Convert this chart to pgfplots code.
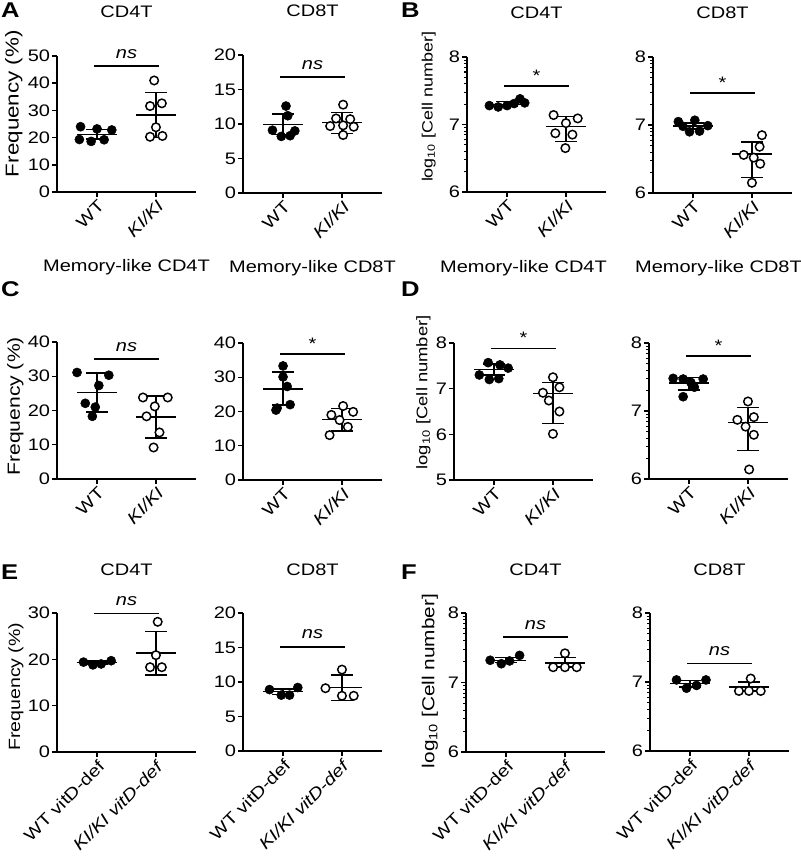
\documentclass[border=0pt]{standalone}
\usepackage{fontspec}
\setmainfont{Liberation Sans}[FakeStretch=1.2]
\usepackage{pgfplots}
\pgfplotsset{compat=1.18}

\pgfplotsset{
  panel/.style={
    scale only axis, width=104.25pt, height=102pt,
    xmin=-0.68, xmax=1.68,
    axis lines=left, axis line style={-, line width=1.2pt, black},
    tick align=outside, major tick length=3.5pt, minor tick length=2pt,
    tick style={line width=1.1pt, black},
    minor tick style={line width=0.8pt, black},
    xtick={0,1},
    tick label style={font=\fontsize{12.5}{12.5}\selectfont},
    /pgf/number format/assume math mode=true,
    yticklabel style={inner sep=1.5pt},
    xticklabel style={rotate=45, anchor=north east, inner sep=1pt},
    title style={at={(0.5,1)}, anchor=base, yshift=22.5pt, font=\fontsize{12.5}{12.5}\selectfont},
    clip=false,
    anchor=south west,
  },
  logminor/.style={minor ytick={6.301,6.477,6.602,6.699,6.778,6.845,6.903,6.954,7.301,7.477,7.602,7.699,7.778,7.845,7.903,7.954}},
  wt/.style={only marks, mark=*, mark size=3.4pt, mark options={draw=black, fill=black}},
  ki/.style={only marks, mark=*, mark size=3.2pt, mark options={draw=black, fill=white, line width=1.1pt}},
  sd/.style={black, line width=1.1pt, mark=none},
  sigl/.style={black, line width=1.3pt, mark=none},
  ylab/.style n args={4}{ylabel={#1}, ylabel style={at={(axis description cs:#2,#3)}, anchor=center, font=\fontsize{#4}{#4}\selectfont}},
}

\newcommand\msdL[3]{%
  \addplot[sd] coordinates {(-0.34,#1) (0.34,#1)};
  \addplot[sd] coordinates {(0,#2) (0,#3)};
  \addplot[sd] coordinates {(-0.18,#2) (0.18,#2)};
  \addplot[sd] coordinates {(-0.18,#3) (0.18,#3)};}
\newcommand\msdR[3]{%
  \addplot[sd] coordinates {(0.66,#1) (1.34,#1)};
  \addplot[sd] coordinates {(1,#2) (1,#3)};
  \addplot[sd] coordinates {(0.82,#2) (1.18,#2)};
  \addplot[sd] coordinates {(0.82,#3) (1.18,#3)};}
\newcommand\sig[3]{%
  \addplot[sigl] coordinates {(-0.05,#1) (1.05,#1)};
  \node[anchor=base, inner sep=0pt, yshift=#3, font=\fontsize{12.5}{12.5}\selectfont] at (axis cs:0.5,#1) {#2};}

\newcommand\flab{Frequency (\%)}
\newcommand\llab{log\textsubscript{10} [Cell number]}

\begin{document}
\begin{tikzpicture}
\path[use as bounding box] (0,0) rectangle (600pt,642.75pt);

\node[font=\bfseries\fontsize{16}{16}\selectfont, inner sep=0pt, anchor=west] at (0.6pt,635.25pt) {A};
\node[font=\bfseries\fontsize{16}{16}\selectfont, inner sep=0pt, anchor=west] at (300.6pt,635.25pt) {B};
\node[font=\bfseries\fontsize{16}{16}\selectfont, inner sep=0pt, anchor=west] at (0.6pt,426pt) {C};
\node[font=\bfseries\fontsize{16}{16}\selectfont, inner sep=0pt, anchor=west] at (300.6pt,426pt) {D};
\node[font=\bfseries\fontsize{16}{16}\selectfont, inner sep=0pt, anchor=west] at (0.6pt,213.75pt) {E};
\node[font=\bfseries\fontsize{16}{16}\selectfont, inner sep=0pt, anchor=west] at (300.6pt,213.75pt) {F};

% ---------- A1
\begin{axis}[panel, at={(42.75pt,498.75pt)}, title={CD4T},
  ymin=0, ymax=50, ytick={0,10,...,50}, xticklabels={WT,\textit{KI/KI}},
  ylab={\flab}{-0.31}{0.65}{14}]
\addplot[wt] coordinates {(-0.28,24.0) (0.0,23.2) (0.25,22.8) (-0.3,19.3) (-0.1,18.6) (0.12,19.2)};
\addplot[ki] coordinates {(0.97,41.0) (0.9,31.6) (1.1,32.6) (1.0,23.8) (0.9,20.3) (1.11,20.6)};
\msdL{21.2}{19.4}{23.0}
\msdR{28.3}{20.1}{36.6}
\sig{46.3}{\textit{ns}}{6pt}
\end{axis}

% ---------- A2
\begin{axis}[panel, at={(182.25pt,498pt)}, height=103.5pt, title={CD8T},
  ymin=0, ymax=20, ytick={0,5,...,20}, xticklabels={WT,\textit{KI/KI}}]
\addplot[wt] coordinates {(0.05,12.6) (0.08,11.2) (-0.18,9.1) (0.2,9.0) (-0.03,8.2) (0.12,8.3)};
\addplot[ki] coordinates {(1.02,12.8) (0.9,10.8) (1.14,10.7) (0.8,9.7) (1.02,9.8) (1.2,9.6) (1.02,8.4)};
\msdL{9.95}{8.45}{11.45}
\msdR{10.25}{8.65}{11.7}
\sig{16.8}{\textit{ns}}{6pt}
\end{axis}

% ---------- B1
\begin{axis}[panel, at={(350.25pt,498.75pt)}, height=101.25pt, title={CD4T},
  ymin=6, ymax=8, ytick={6,7,8}, logminor, xticklabels={WT,\textit{KI/KI}},
  ylab={\llab}{-0.275}{0.63}{11.2}]
\addplot[wt] coordinates {(-0.3,7.28) (-0.15,7.26) (0.0,7.28) (0.12,7.31) (0.22,7.38) (0.3,7.32)};
\addplot[ki] coordinates {(0.79,7.14) (1.2,7.09) (1.0,7.02) (0.82,6.87) (1.11,6.85) (0.99,6.65)};
\msdL{7.30}{7.27}{7.34}
\msdR{6.97}{6.75}{7.12}
\sig{7.57}{*}{3.5pt}
\end{axis}

% ---------- B2
\begin{axis}[panel, at={(489.75pt,498pt)}, title={CD8T},
  ymin=6, ymax=8, ytick={6,7,8}, logminor, xticklabels={WT,\textit{KI/KI}}]
\addplot[wt] coordinates {(-0.25,7.05) (0.03,7.07) (0.25,6.99) (-0.17,6.98) (-0.06,6.90) (0.11,6.91)};
\addplot[ki] coordinates {(1.17,6.85) (1.13,6.68) (0.86,6.56) (1.03,6.52) (1.14,6.43) (1.0,6.15)};
\msdL{6.985}{6.94}{7.03}
\msdR{6.57}{6.23}{6.75}
\sig{7.47}{*}{3.5pt}
\end{axis}

% ---------- C1
\begin{axis}[panel, at={(42.75pt,283.5pt)}, height=102.75pt, title={Memory-like CD4T},
  title style={yshift=24pt},
  ymin=0, ymax=40, ytick={0,10,...,40}, xticklabels={WT,\textit{KI/KI}},
  ylab={\flab}{-0.30}{0.53}{13.2}]
\addplot[wt] coordinates {(-0.34,31.1) (0.2,30.3) (0.03,27.3) (-0.2,22.1) (-0.03,21.0) (-0.08,18.3)};
\addplot[ki] coordinates {(0.78,23.8) (1.2,23.8) (0.98,21.2) (0.84,18.3) (1.06,13.6) (0.96,9.2)};
\msdL{25.3}{19.5}{31.0}
\msdR{18.1}{12.0}{24.2}
\sig{35.0}{\textit{ns}}{6pt}
\end{axis}

% ---------- C2
\begin{axis}[panel, at={(182.25pt,282.75pt)}, height=102.75pt, title={Memory-like CD8T},
  title style={yshift=24pt},
  ymin=0, ymax=40, ytick={0,10,...,40}, xticklabels={WT,\textit{KI/KI}}]
\addplot[wt] coordinates {(0.0,33.3) (0.0,30.1) (0.07,27.3) (0.12,22.0) (-0.1,21.0) (-0.12,20.4)};
\addplot[ki] coordinates {(1.02,21.6) (0.82,19.0) (1.19,19.9) (0.96,17.5) (1.1,15.5) (0.79,13.1)};
\msdL{26.6}{21.9}{31.5}
\msdR{17.6}{14.3}{20.8}
\sig{36.8}{*}{3.5pt}
\end{axis}

% ---------- D1
\begin{axis}[panel, at={(340.5pt,282.75pt)}, height=102.75pt, title={Memory-like CD4T},
  title style={yshift=24pt},
  ymin=5, ymax=8, ytick={5,6,7,8}, xticklabels={WT,\textit{KI/KI}},
  ylab={\llab}{-0.22}{0.64}{11.5}]
\addplot[wt] coordinates {(-0.25,7.30) (-0.1,7.57) (0.1,7.52) (0.24,7.45) (-0.08,7.20) (0.08,7.22)};
\addplot[ki] coordinates {(1.0,7.25) (1.11,7.03) (0.83,6.91) (0.93,6.74) (1.11,6.50) (1.0,6.01)};
\msdL{7.42}{7.30}{7.54}
\msdR{6.89}{6.24}{7.14}
\sig{7.88}{*}{3.5pt}
\end{axis}

% ---------- D2
\begin{axis}[panel, at={(486.75pt,283.5pt)}, title={Memory-like CD8T},
  title style={yshift=24pt},
  ymin=6, ymax=8, ytick={6,7,8}, logminor, xticklabels={WT,\textit{KI/KI}}]
\addplot[wt] coordinates {(-0.27,7.48) (-0.1,7.47) (0.24,7.47) (0.03,7.42) (0.09,7.35) (-0.1,7.21)};
\addplot[ki] coordinates {(1.0,7.14) (0.82,6.87) (1.1,6.91) (0.96,6.77) (1.1,6.65) (1.02,6.14)};
\msdL{7.41}{7.31}{7.49}
\msdR{6.83}{6.42}{7.05}
\sig{7.81}{*}{3.5pt}
\end{axis}

% ---------- E1
\begin{axis}[panel, at={(42.75pt,78.75pt)}, height=104.25pt, title={CD4T},
  ymin=0, ymax=30, ytick={0,10,...,30}, xticklabels={WT vitD-def,\textit{KI/KI vitD-def}},
  ylab={\flab}{-0.295}{0.47}{12.2}]
\addplot[wt] coordinates {(-0.23,19.4) (-0.07,18.8) (0.07,19.0) (0.24,19.7)};
\addplot[ki] coordinates {(1.03,28.1) (1.0,20.9) (0.9,18.3) (1.1,18.3)};
\msdL{19.3}{19.0}{19.6}
\msdR{21.4}{16.6}{26.0}
\sig{29.9}{\textit{ns}}{6pt}
\end{axis}

% ---------- E2
\begin{axis}[panel, at={(182.25pt,79.5pt)}, height=103.5pt, title={CD8T},
  ymin=0, ymax=20, ytick={0,5,...,20}, xticklabels={WT vitD-def,\textit{KI/KI vitD-def}}]
\addplot[wt] coordinates {(-0.23,8.9) (-0.03,8.1) (0.11,8.1) (0.25,9.2)};
\addplot[ki] coordinates {(1.0,11.8) (0.72,9.1) (1.0,8.0) (1.2,8.0)};
\msdL{8.6}{8.2}{9.0}
\msdR{9.2}{7.3}{11.0}
\sig{15.1}{\textit{ns}}{6pt}
\end{axis}

% ---------- F1
\begin{axis}[panel, at={(349.5pt,78.75pt)}, height=104.25pt, title={CD4T},
  ymin=6, ymax=8, ytick={6,7,8}, logminor, xticklabels={WT vitD-def,\textit{KI/KI vitD-def}},
  ylab={\llab}{-0.26}{0.51}{13}]
\addplot[wt] coordinates {(-0.27,7.32) (-0.08,7.27) (0.06,7.31) (0.23,7.39)};
\addplot[ki] coordinates {(1.0,7.42) (0.8,7.22) (1.0,7.22) (1.2,7.22)};
\msdL{7.32}{7.29}{7.36}
\msdR{7.28}{7.22}{7.36}
\sig{7.65}{\textit{ns}}{6pt}
\end{axis}

% ---------- F2
\begin{axis}[panel, at={(487.5pt,79.5pt)}, height=103.5pt, title={CD8T},
  ymin=6, ymax=8, ytick={6,7,8}, logminor, xticklabels={WT vitD-def,\textit{KI/KI vitD-def}}]
\addplot[wt] coordinates {(-0.23,7.03) (-0.06,6.91) (0.11,6.95) (0.27,7.03)};
\addplot[ki] coordinates {(1.03,7.05) (0.83,6.87) (1.0,6.87) (1.2,6.87)};
\msdL{6.98}{6.93}{7.02}
\msdR{6.93}{6.87}{7.0}
\sig{7.27}{\textit{ns}}{6pt}
\end{axis}
\end{tikzpicture}
\end{document}
